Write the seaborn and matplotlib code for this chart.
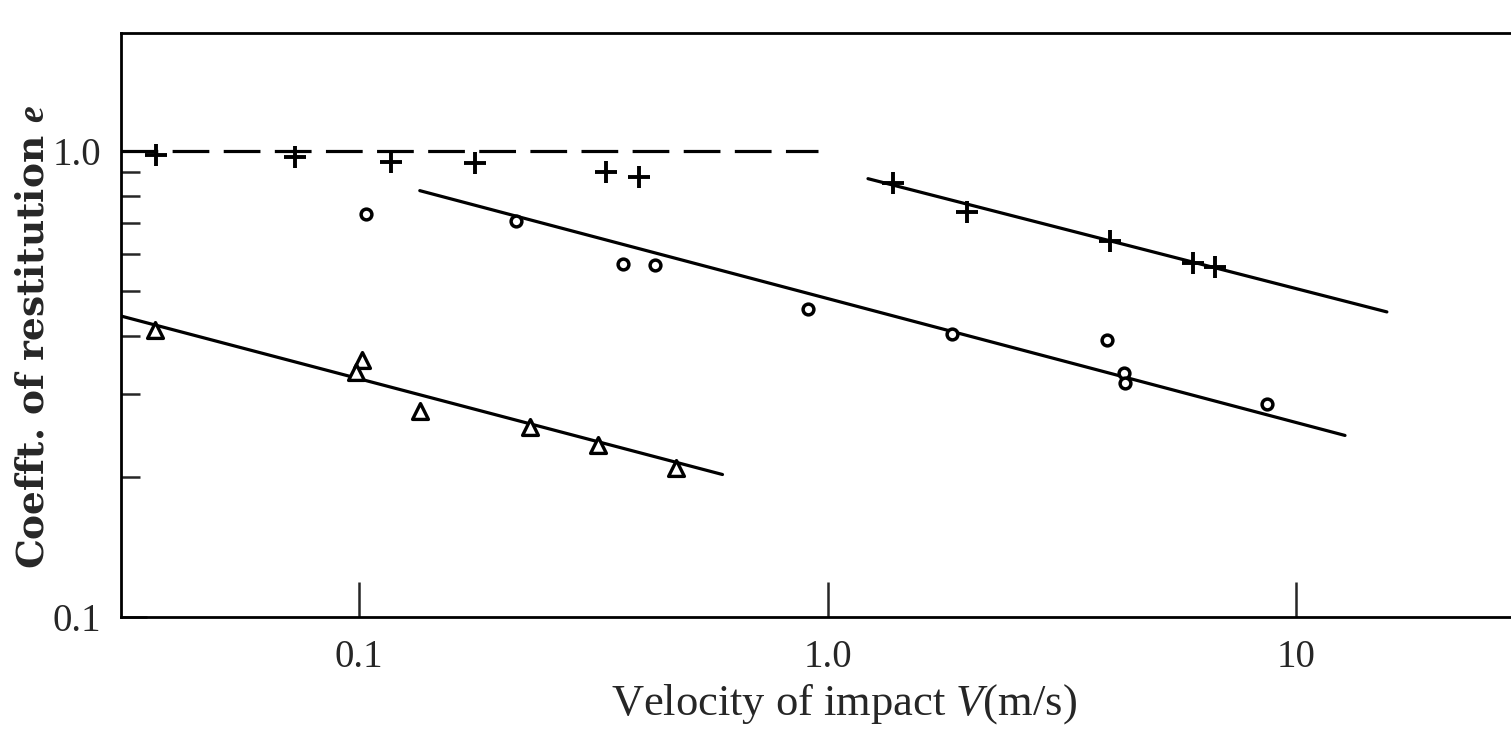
"""
Coefficient of restitution vs velocity of impact (log-log), recreated with seaborn.
"""

import numpy as np
import pandas as pd
import matplotlib
matplotlib.use("Agg")
import matplotlib.pyplot as plt
import seaborn as sns

# --- data -------------------------------------------------------------------
# "+" points
plus_v = [0.037, 0.073, 0.117, 0.177, 0.337, 0.397, 1.38, 1.98, 4.01, 6.03, 6.71]
plus_e = [0.98, 0.97, 0.947, 0.943, 0.901, 0.88, 0.854, 0.74, 0.641, 0.575, 0.564]

# "o" points
circ_v = [0.1035, 0.217, 0.366, 0.428, 0.91, 1.84, 3.94, 4.28, 4.32, 8.67]
circ_e = [0.732, 0.707, 0.572, 0.569, 0.458, 0.405, 0.393, 0.334, 0.318, 0.286]

# triangle points
tri_v = [0.0367, 0.1015, 0.0985, 0.135, 0.232, 0.324, 0.474]
tri_e = [0.413, 0.356, 0.336, 0.277, 0.256, 0.234, 0.209]

# fitted straight lines (end points)
fit_plus_v = [1.22, 15.6]
fit_plus_e = [0.871, 0.451]
fit_circ_v = [0.135, 12.7]
fit_circ_e = [0.821, 0.245]
fit_tri_v = [0.0311, 0.597]
fit_tri_e = [0.442, 0.202]

# elastic limit e = 1
elastic_v = [0.0311, 0.953]
elastic_e = [1.0, 1.0]

x_ticks = [0.1, 1.0, 10]
x_ticklabels = ["0.1", "1.0", "10"]
y_ticks = [0.1, 1.0]
y_ticklabels = ["0.1", "1.0"]
y_minor = [0.2, 0.3, 0.4, 0.5, 0.6, 0.7, 0.8, 0.9]

sns.set_style("ticks")
plt.rcParams["font.family"] = ["Liberation Serif", "DejaVu Serif"]
plt.rcParams["mathtext.fontset"] = "custom"
plt.rcParams["mathtext.it"] = "Liberation Serif:italic"
plt.rcParams["mathtext.rm"] = "Liberation Serif"
plt.rcParams["mathtext.bfit"] = "Liberation Serif:bold:italic"

fig = plt.figure(figsize=(15.11, 7.3), dpi=100)
ax = fig.add_axes([0.080, 0.155, 0.92, 0.80])

lw = 2.3
for fv, fe in [(fit_plus_v, fit_plus_e), (fit_circ_v, fit_circ_e), (fit_tri_v, fit_tri_e)]:
    sns.lineplot(x=fv, y=fe, ax=ax, color="black", linewidth=lw)
sns.lineplot(x=elastic_v, y=elastic_e, ax=ax, color="black", linewidth=lw,
             dashes=False, linestyle=(0, (11.5, 4.5)))

sns.scatterplot(x=plus_v, y=plus_e, ax=ax, marker="+", s=230, color="black",
                linewidth=2.8, zorder=5)
sns.scatterplot(x=circ_v, y=circ_e, ax=ax, marker="o", s=60, fc="white",
                ec="black", linewidth=2.5, zorder=5)
sns.scatterplot(x=tri_v, y=tri_e, ax=ax, marker="^", s=130, fc="white",
                ec="black", linewidth=2.4, zorder=5)

ax.set_xscale("log")
ax.set_yscale("log")
ax.set_xlim(0.0311, 28.7)
ax.set_ylim(0.1, 1.79)

ax.set_xticks(x_ticks)
ax.set_xticklabels(x_ticklabels)
ax.xaxis.set_minor_locator(matplotlib.ticker.NullLocator())
ax.set_yticks(y_ticks)
ax.set_yticklabels(y_ticklabels)
ax.set_yticks(y_minor, minor=True)
ax.yaxis.set_minor_formatter(matplotlib.ticker.NullFormatter())

ax.tick_params(axis="x", which="major", direction="in", length=25, width=1.8,
               pad=16, labelsize=28, top=False)
ax.tick_params(axis="y", which="major", direction="in", length=19, width=1.8,
               pad=14, labelsize=28, right=False)
ax.tick_params(axis="y", which="minor", direction="in", length=14, width=1.8,
               right=False)

for side in ["left", "bottom", "top"]:
    ax.spines[side].set_linewidth(2.0)
    ax.spines[side].set_color("black")
ax.spines["right"].set_visible(False)

ax.set_xlabel(r"Velocity of impact $V$(m/s)", fontsize=32)
ax.xaxis.set_label_coords(0.52, -0.112)
ax.set_ylabel(r"Coefft. of restitution $\boldsymbol{e}$", fontsize=27,
              fontweight="bold", family=["DejaVu Serif"])
ax.yaxis.set_label_coords(-0.05, 0.48)

fig.savefig("out.png", dpi=100)
